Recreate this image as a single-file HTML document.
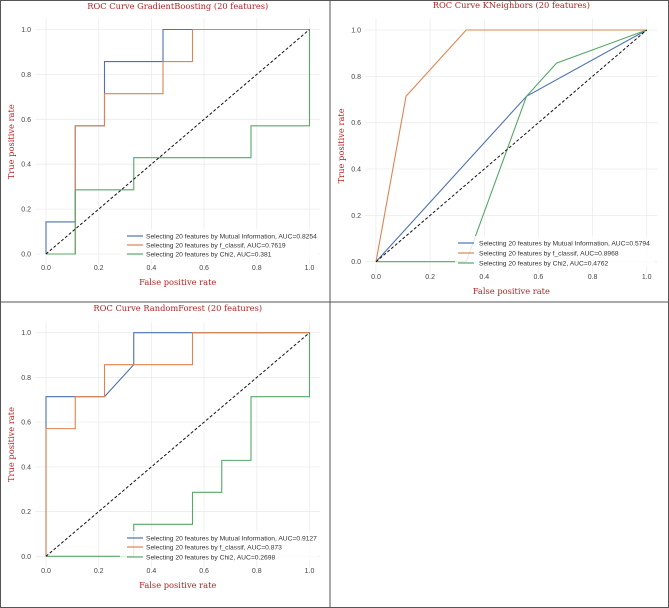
<!DOCTYPE html>
<html><head><meta charset="utf-8"><style>
body{margin:0;background:#fff;width:669px;height:608px;overflow:hidden}
svg{display:block}
.tick{font-family:"Liberation Sans",sans-serif;font-size:7px;fill:#444}
.ttl{font-family:"DejaVu Serif","Liberation Serif",serif;font-size:8.3px;fill:#b22222}
.lbl{font-family:"DejaVu Serif","Liberation Serif",serif;font-size:8.3px;fill:#b22222}
.leg{font-family:"Liberation Sans",sans-serif;font-size:6.7px;fill:#333}
</style></head><body>
<svg id="c" width="669" height="608">
<rect x="0.5" y="0.5" width="668" height="607" fill="none" stroke="#555"/>
<line x1="330" y1="0" x2="330" y2="608" stroke="#555"/>
<line x1="0" y1="302" x2="669" y2="302" stroke="#555"/>
</svg>
<script>
const ticks=[0,0.2,0.4,0.6,0.8,1.0];
const tickLabels=["0.0","0.2","0.4","0.6","0.8","1.0"];
const seriesNames=["Selecting 20 features by Mutual Information","Selecting 20 features by f_classif","Selecting 20 features by Chi2"];
const colors=["#4c72b0","#dd8452","#55a868"];
const titles=["ROC Curve GradientBoosting (20 features)","ROC Curve KNeighbors (20 features)","ROC Curve RandomForest (20 features)"];
const aucs=[["0.8254","0.7619","0.381"],["0.5794","0.8968","0.4762"],["0.9127","0.873","0.2698"]];
// panel 1
const gbFpr=[[0,0,.111,.111,.222,.222,.444,.444,1],[0,.111,.111,.222,.222,.444,.444,.556,.556,1],[0,.111,.111,.333,.333,.778,.778,1,1]];
const gbTpr=[[0,.143,.143,.571,.571,.857,.857,1,1],[0,0,.571,.571,.714,.714,.857,.857,1,1],[0,0,.286,.286,.429,.429,.571,.571,1]];
// panel 2
const knFpr=[[0,.556,1],[0,.111,.333,1],[0,.333,.556,.667,1]];
const knTpr=[[0,.714,1],[0,.714,1,1],[0,0,.714,.857,1]];
// panel 3
const rfFpr=[[0,0,.222,.333,.333,1],[0,0,.111,.111,.222,.222,.556,.556,1],[0,.333,.333,.556,.556,.667,.667,.778,.778,1,1]];
const rfTpr=[[0,.714,.714,.857,1,1],[0,.571,.571,.714,.714,.857,.857,1,1],[0,0,.143,.143,.286,.286,.429,.429,.714,.714,1]];

const NS="http://www.w3.org/2000/svg";
const svg=document.getElementById('c');
function mk(t,a,p){const e=document.createElementNS(NS,t);for(const k in a)e.setAttribute(k,a[k]);(p||svg).appendChild(e);return e;}
const panels=[
 {x0:46,x1:309.5,y0:254,y1:29.5,ty:9,tky:270,xly:285,yx:14,leg:{x:120,y:229,w:198,rx:127,tx:146,ry:[236,245,254]},fpr:gbFpr,tpr:gbTpr},
 {x0:376,x1:646.7,y0:261.7,y1:30,ty:8,tky:279,xly:294,yx:344,leg:{x:455,y:236,w:200,rx:458,tx:479,ry:[243,253,263]},fpr:knFpr,tpr:knTpr},
 {x0:46,x1:309.5,y0:556.3,y1:332.7,ty:311,tky:573,xly:588,yx:14,leg:{x:120,y:531,w:198,rx:127,tx:146,ry:[538,547,557]},fpr:rfFpr,tpr:rfTpr}
];
panels.forEach((P,pi)=>{
 const g=mk('g',{});
 
 
 const sx=v=>P.x0+(P.x1-P.x0)*v, sy=v=>P.y0+(P.y1-P.y0)*v;
 ticks.forEach((t,i)=>{
  const gv=mk('line',{x1:sx(t),x2:sx(t),y1:sy(1.05),y2:sy(-0.05),stroke:'#ececec','stroke-width':0.8},g);
  
  
  const gh=mk('line',{x1:sx(-0.04),x2:sx(1.04),y1:sy(t),y2:sy(t),stroke:'#ececec','stroke-width':0.8},g);
  
  
  const tx=mk('text',{x:sx(t),y:P.tky,'text-anchor':'middle',class:'tick'},g);tx.textContent=tickLabels[i];
  
  
  const ty=mk('text',{x:sx(0)-15,y:sy(t)+2.5,'text-anchor':'end',class:'tick'},g);ty.textContent=tickLabels[i];
  
  
 });
 const tt=mk('text',{x:(P.x0+P.x1)/2,y:P.ty,'text-anchor':'middle',class:'ttl'},g);tt.textContent=titles[pi];
 
 
 const xl=mk('text',{x:(P.x0+P.x1)/2,y:P.xly,'text-anchor':'middle',class:'lbl'},g);xl.textContent='False positive rate';
 
 
 const ym=(P.y0+P.y1)/2;
 const yl=mk('text',{x:P.yx,y:ym,'text-anchor':'middle',class:'lbl',transform:`rotate(-90 ${P.yx} ${ym})`},g);yl.textContent='True positive rate';
 
 
 P.fpr.forEach((xs,si)=>{
  const pts=xs.map((x,i)=>sx(x)+','+sy(P.tpr[si][i])).join(' ');
  const pl=mk('polyline',{points:pts,fill:'none',stroke:colors[si],'stroke-width':1.1},g);
  
  
 });
 const d=mk('line',{x1:sx(0),y1:sy(0),x2:sx(1),y2:sy(1),stroke:'#111','stroke-width':1,'stroke-dasharray':'3,2'},g);
 
 
 const L=P.leg;
 const lb=mk('rect',{x:L.x,y:L.y,width:L.w,height:30,fill:'#fff','fill-opacity':0.8},g);
 
 
 seriesNames.forEach((n,si)=>{
  const ll=mk('line',{x1:L.rx,x2:L.rx+16,y1:L.ry[si],y2:L.ry[si],stroke:colors[si],'stroke-width':1.2},g);
  
  
  const lt=mk('text',{x:L.tx,y:L.ry[si]+2.5,class:'leg'},g);lt.textContent=n+', AUC='+aucs[pi][si];
  
  
 });
});
</script>
</body></html>
